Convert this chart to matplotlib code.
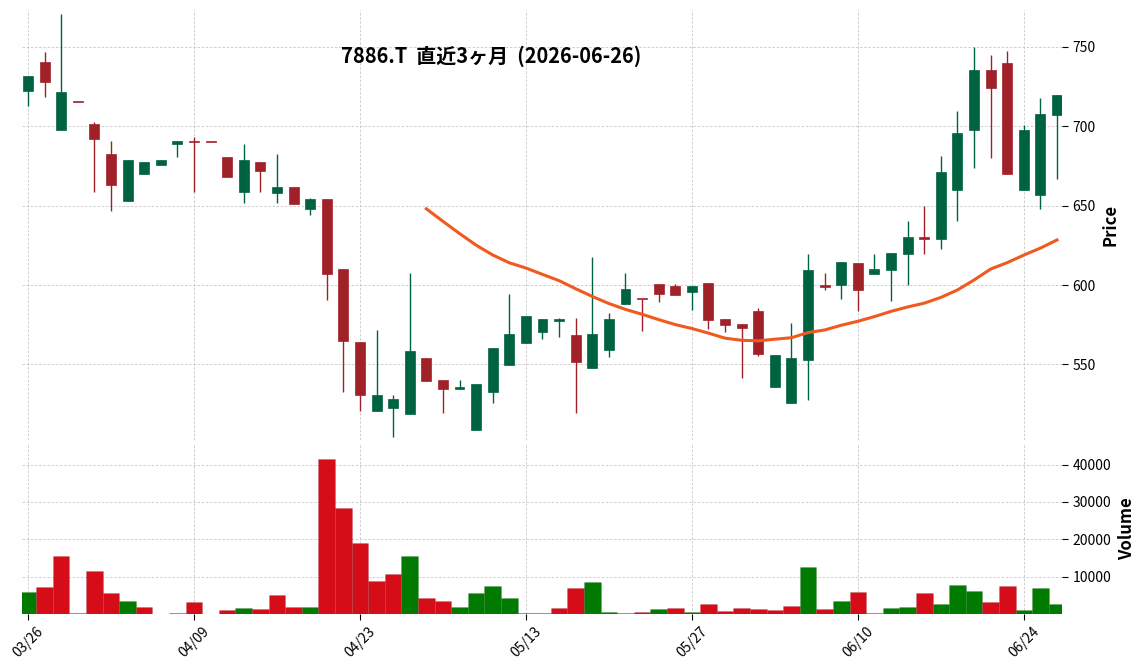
import numpy as np
import pandas as pd
import matplotlib
matplotlib.use('Agg')
import matplotlib.pyplot as plt

plt.rcParams['font.family'] = ['Noto Sans CJK JP', 'DejaVu Sans']

title = '7886.T  直近3ヶ月  (2026-06-26)'
holidays = ['2026-04-29', '2026-05-04', '2026-05-05', '2026-05-06']
dates = pd.bdate_range('2026-03-26', '2026-06-26', freq='C', holidays=holidays)

opens = [722.3, 740.3, 697.5, 714.9, 701.3, 682.4, 652.7, 670.0, 675.6, 688.7,
         690.3, 690.0, 680.5, 658.6, 677.3, 658.0, 661.6, 647.7, 654.0, 609.9,
         563.9, 520.6, 522.7, 518.7, 554.0, 540.0, 534.5, 509.0, 532.6, 549.9,
         563.4, 570.2, 577.3, 568.5, 548.0, 559.0, 587.8, 591.5, 600.8, 599.6,
         595.8, 601.5, 578.6, 575.6, 583.8, 536.1, 525.8, 552.7, 600.0, 600.0,
         614.1, 607.0, 609.4, 619.5, 630.0, 629.2, 659.7, 697.5, 735.3, 739.7,
         659.7, 656.5, 707.0]
highs = [731.5, 746.4, 770.4, 714.9, 702.3, 690.3, 678.6, 677.3, 678.6, 690.3,
         693.3, 690.0, 680.5, 688.4, 677.3, 682.1, 661.6, 655.0, 654.0, 609.9,
         563.9, 571.8, 530.9, 607.8, 554.0, 540.0, 540.0, 538.0, 560.5, 594.4,
         580.7, 578.6, 579.2, 579.2, 617.6, 582.4, 607.6, 591.5, 600.8, 600.6,
         599.6, 601.5, 578.6, 575.6, 585.3, 556.2, 576.1, 619.7, 607.6, 614.3,
         614.1, 619.7, 619.9, 640.0, 650.0, 681.0, 709.2, 750.0, 744.5, 747.0,
         700.4, 717.5, 719.5]
lows = [712.6, 718.1, 697.5, 714.9, 658.6, 646.6, 652.7, 670.0, 675.6, 680.3,
        658.6, 690.0, 668.0, 651.9, 658.6, 651.9, 650.8, 644.3, 590.8, 533.0,
        520.6, 520.6, 504.2, 518.7, 539.5, 519.5, 534.5, 509.0, 525.8, 549.9,
        563.4, 566.0, 567.2, 519.5, 548.0, 555.0, 587.8, 571.0, 589.3, 594.0,
        584.0, 572.5, 570.2, 541.2, 555.3, 536.1, 525.8, 527.8, 597.0, 591.0,
        583.7, 607.0, 590.0, 600.0, 619.7, 622.5, 640.0, 673.9, 680.0, 669.7,
        659.7, 647.9, 666.8]
closes = [731.5, 727.9, 721.4, 714.9, 692.0, 663.0, 678.6, 677.3, 678.6, 690.3,
          690.0, 690.0, 668.0, 678.6, 671.8, 661.6, 650.8, 654.0, 606.7, 564.7,
          531.0, 530.5, 528.0, 558.2, 539.5, 534.5, 536.1, 538.0, 560.5, 569.3,
          580.7, 578.6, 578.4, 551.3, 569.3, 578.6, 597.7, 591.2, 594.5, 594.0,
          599.6, 578.2, 575.0, 573.1, 556.5, 556.2, 554.0, 609.2, 598.5, 614.3,
          596.9, 609.9, 619.9, 630.0, 629.0, 670.8, 695.6, 735.3, 724.0, 669.7,
          697.5, 707.6, 719.5]
volumes = [6000, 7200, 15600, 400, 11600, 5750, 3600, 1800, 0, 400,
           3100, 0, 1000, 1500, 1250, 5000, 1800, 2000, 41600, 28300,
           19000, 8900, 10800, 15600, 4150, 3350, 1800, 5500, 7600, 4400,
           400, 400, 1500, 7000, 8600, 600, 350, 600, 1400, 1700,
           600, 2750, 900, 1700, 1400, 1150, 2200, 12600, 1400, 3550,
           5950, 350, 1700, 1950, 5700, 2750, 7800, 6200, 3300, 7550,
           1150, 7000, 2750]

opens = np.array(opens); highs = np.array(highs)
lows = np.array(lows); closes = np.array(closes)
mav = pd.Series(closes).rolling(25).mean()

up_c, dn_c = '#006340', '#a02128'
vup_c, vdn_c = '#007a00', '#d50d18'
grid_kw = dict(ls=(0, (3, 2)), color='#c6c6c6', lw=0.6)

x = np.arange(len(dates))
ccol = [up_c if c > o else dn_c for o, c in zip(opens, closes)]
prev = np.r_[opens[0], closes[:-1]]
vcol = [vup_c if c > p else vdn_c for p, c in zip(prev, closes)]

fig = plt.figure(figsize=(11.45, 6.7), dpi=100)
L, W = 22/1145, (1062-22)/1145
ax = fig.add_axes([L, 1-440/670, W, 430/670])
axv = fig.add_axes([L, 1-614/670, W, 171/670], sharex=ax)

# candles
ax.vlines(x, lows, highs, colors=ccol, lw=1.0)
body = np.maximum(np.abs(closes - opens), 0.9)
ax.bar(x, body, bottom=np.minimum(opens, closes), width=0.6, color=ccol,
       edgecolor=ccol, lw=0.5)
ax.plot(x, mav, color='#f05a1e', lw=2.2)

# volume
axv.bar(x, volumes, width=1.0, color=vcol, edgecolor=(0, 0, 0, 0.15), lw=0.4)

for a in (ax, axv):
    for s in a.spines.values():
        s.set_visible(False)
    a.grid(True, **grid_kw)
    a.set_axisbelow(True)
    a.yaxis.tick_right()
    a.yaxis.set_label_position('right')
    a.tick_params(axis='y', labelsize=10, length=4)

ax.set_xlim(-0.36, 62.3)
ax.set_ylim(502.5, 773)
ax.set_yticks([550, 600, 650, 700, 750])
ax.tick_params(axis='x', labelbottom=False, bottom=False)
ax.set_ylabel('Price', fontsize=12, fontweight='bold', labelpad=4)

axv.set_ylim(0, 1.1*max(volumes))
axv.set_yticks([10000, 20000, 30000, 40000])
axv.set_xticks(x[::10])
axv.set_xticklabels(dates[::10].strftime('%m/%d'), rotation=45, fontsize=10)
axv.tick_params(axis='x', length=4)
axv.set_ylabel('Volume', fontsize=12, fontweight='bold', labelpad=5)

fig.text(491/1145, 1-56/670, title, ha='center', va='center', fontsize=14.4,
         fontweight='bold')

fig.savefig('out.png', dpi=100)
